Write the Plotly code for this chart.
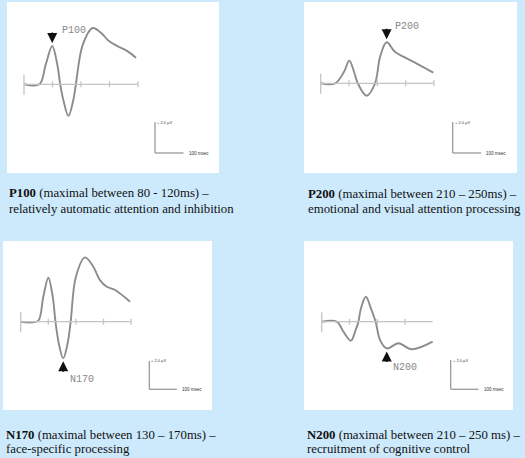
import plotly.graph_objects as go

W, H = 525, 458

# ---------------- data ----------------
components = ["P100", "P200", "N170", "N200"]

p100_time = [0, 54, 76, 99, 117, 127, 138, 156, 173, 182, 206, 241, 272, 296, 325, 360, 393]
p100_uv = [0, 0, 1.25, 2.47, 1.25, 0, -1.01, -2.04, -1.01, 0, 2.54, 3.63, 3.29, 2.82, 2.49, 2.17, 1.72]

p200_time = [0, 51, 82, 101, 118, 131, 162, 192, 210, 233, 262, 292, 316, 398]
p200_uv = [0, 0, 0.73, 1.46, 0.73, 0, -0.8, 0, 1.72, 2.65, 2.04, 1.72, 1.5, 0.69]

n170_time = [0, 40, 64, 82, 100, 116, 126, 138, 154, 170, 181, 200, 233, 263, 287, 312, 342, 396]
n170_uv = [0, -0.05, 0.07, 1.76, 3.1, 1.76, 0, -1.53, -2.58, -1.53, 0, 3.17, 4.53, 3.87, 2.93, 2.46, 2.23, 1.41]

n200_time = [0, 54, 78, 105, 122, 132, 141, 159, 177, 194, 210, 234, 276, 324, 399]
n200_uv = [0, 0, -0.68, -1.3, -0.57, 0, 0.91, 1.71, 0.91, 0, -1.26, -1.83, -1.48, -1.89, -1.37]

# peak being marked (time ms, amplitude uV)
peak_time = [99, 233, 154, 234]
peak_uv = [2.47, 2.65, -2.58, -1.83]

tick_times = [[0, 100, 200, 300, 400], [0, 100, 200, 300, 400],
              [0, 100, 200, 300, 400], [0, 100, 200, 300]]
baseline_end = [400, 400, 400, 399]

captions = [
    ("<b>P100</b> (maximal between 80 - 120ms) –", "relatively automatic attention and inhibition"),
    ("<b>P200</b> (maximal between 210 – 250ms) –", "emotional and visual attention processing"),
    ("<b>N170</b> (maximal between 130 – 170ms) –", "face-specific processing"),
    ("<b>N200</b> (maximal between 210 – 250 ms) –", "recruitment of cognitive control"),
]

scale_uv = 2.0
scale_ms = 100

series = [(p100_time, p100_uv), (p200_time, p200_uv), (n170_time, n170_uv), (n200_time, n200_uv)]

# ---------------- layout geometry (pixels) ----------------
panels = [
    dict(rect=(7, 2, 219, 173), origin=(24, 84.3), sx=0.285, sy=15.5,
         label=(60, 30), arrow=-1, scale=(155, 153), cap=(7, 193.3, 209.3)),
    dict(rect=(304, 2, 517, 173), origin=(320.7, 83.3), sx=0.283, sy=15.5,
         label=(393, 26), arrow=-1, scale=(452.7, 153), cap=(305.7, 194, 209.3)),
    dict(rect=(3, 241, 212, 410), origin=(20.7, 321.7), sx=0.276, sy=14.2,
         label=(67.7, 379), arrow=1, scale=(149.3, 389.3), cap=(4, 435, 449)),
    dict(rect=(304, 241, 513, 410), origin=(321.7, 321.7), sx=0.278, sy=14.6,
         label=(391, 367.3), arrow=1, scale=(450.7, 389.3), cap=(305, 435, 449)),
]

BG = "#cdeafd"
WAVE = "#8c8c8c"
BASE = "#c4c4c4"

fig = go.Figure()
shapes = []
annotations = []
layout_axes = {}


def px(xp):
    return xp / W


def py(yp):
    return 1 - yp / H


for i, (p, (t, v)) in enumerate(zip(panels, series)):
    n = "" if i == 0 else str(i + 1)
    xa, ya = "x" + n, "y" + n
    rx0, ry0, rx1, ry1 = p["rect"]
    ox, oy = p["origin"]
    sx, sy = p["sx"], p["sy"]

    # white panel
    shapes.append(dict(type="rect", xref="paper", yref="paper",
                       x0=px(rx0), x1=px(rx1), y0=py(ry1), y1=py(ry0),
                       fillcolor="white", line=dict(width=0), layer="below"))

    layout_axes["xaxis" + n] = dict(domain=[px(rx0), px(rx1)],
                                    range=[(rx0 - ox) / sx, (rx1 - ox) / sx],
                                    visible=False, anchor=ya, fixedrange=True)
    layout_axes["yaxis" + n] = dict(domain=[py(ry1), py(ry0)],
                                    range=[(oy - ry1) / sy, (oy - ry0) / sy],
                                    visible=False, anchor=xa, fixedrange=True)

    # baseline
    shapes.append(dict(type="line", xref=xa, yref=ya, x0=0, x1=baseline_end[i], y0=0, y1=0,
                       line=dict(color=BASE, width=1.3)))
    # ticks
    for tt in tick_times[i]:
        if tt == 0:
            up, dn = 9.5 / sy, -10.5 / sy
        else:
            up, dn = 3 / sy, -3 / sy
        shapes.append(dict(type="line", xref=xa, yref=ya, x0=tt, x1=tt, y0=dn, y1=up,
                           line=dict(color=BASE, width=1.3)))

    # waveform
    fig.add_trace(go.Scatter(x=t, y=v, xaxis=xa, yaxis=ya, mode="lines",
                             line=dict(color=WAVE, width=1.9, shape="spline", smoothing=1.0),
                             hoverinfo="skip", showlegend=False))

    # arrow to peak
    d = p["arrow"]
    annotations.append(dict(x=peak_time[i], y=peak_uv[i], xref=xa, yref=ya, text="",
                            showarrow=True, ax=0, ay=-15 if d < 0 else 15,
                            standoff=3, arrowhead=2, arrowsize=1.25, arrowwidth=1.6,
                            arrowcolor="#111"))
    # component label
    lx, ly = p["label"]
    annotations.append(dict(x=px(lx), y=py(ly), xref="paper", yref="paper",
                            text=components[i], showarrow=False, xanchor="left",
                            yanchor="middle",
                            font=dict(family="Liberation Mono", size=10, color="#888888")))

    # scale bar
    cx, cy = p["scale"]
    t0 = (cx - ox) / sx
    a0 = (oy - cy) / sy
    shapes.append(dict(type="line", xref=xa, yref=ya, x0=t0, x1=t0, y0=a0, y1=a0 + scale_uv,
                       line=dict(color="#9a9a9a", width=1.3)))
    shapes.append(dict(type="line", xref=xa, yref=ya, x0=t0, x1=t0 + scale_ms, y0=a0, y1=a0,
                       line=dict(color="#9a9a9a", width=1.3)))
    annotations.append(dict(x=t0, y=a0 + scale_uv, xref=xa, yref=ya,
                            text="+ %.1f µV" % scale_uv, showarrow=False,
                            xanchor="left", yanchor="middle", xshift=0,
                            font=dict(family="Arial", size=4, color="#444")))
    annotations.append(dict(x=t0 + scale_ms, y=a0, xref=xa, yref=ya,
                            text="%d msec" % scale_ms, showarrow=False,
                            xanchor="left", yanchor="middle", xshift=3,
                            font=dict(family="Arial", size=4.5, color="#333")))

    # caption
    cxp, cy1, cy2 = p["cap"]
    for txt, yy in zip(captions[i], (cy1, cy2)):
        annotations.append(dict(x=px(cxp), y=py(yy), xref="paper", yref="paper",
                                text=txt, showarrow=False, xanchor="left", yanchor="middle",
                                font=dict(family="Liberation Serif", size=12.8, color="#111111")))

fig.update_layout(
    width=W, height=H,
    margin=dict(l=0, r=0, t=0, b=0),
    paper_bgcolor=BG, plot_bgcolor="rgba(0,0,0,0)",
    shapes=shapes, annotations=annotations,
    showlegend=False,
    **layout_axes,
)

fig.write_html("out.html", include_plotlyjs=True,
               config=dict(displayModeBar=False, staticPlot=True),
               post_script="document.body.style.margin='0';document.body.style.padding='0';"
                           "document.body.style.background='" + BG + "';")
